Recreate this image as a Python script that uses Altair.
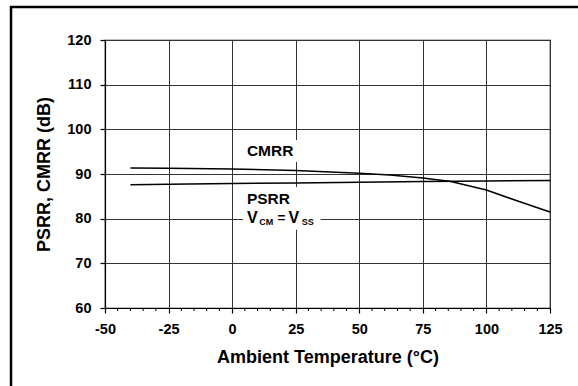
import altair as alt
import pandas as pd

# ---- data ----
temp_cmrr = [-40, -25, 0, 25, 50, 62, 75, 86, 100, 112, 125]
cmrr_db = [91.35, 91.3, 91.1, 90.8, 90.15, 89.8, 89.1, 88.3, 86.4, 84.0, 81.5]

temp_psrr = [-40, -25, 0, 25, 50, 75, 100, 125]
psrr_db = [87.6, 87.7, 87.85, 88.0, 88.15, 88.3, 88.45, 88.55]

x_ticks = [-50, -25, 0, 25, 50, 75, 100, 125]
y_ticks = [60, 70, 80, 90, 100, 110, 120]
minor_ticks = [-45, -40, -35, -30, -20, -15, -10, -5, 5, 10, 15, 20, 30, 35, 40, 45,
               55, 60, 65, 70, 80, 85, 90, 95, 105, 110, 115, 120]

# annotation text pieces
ann_text = ["CMRR", "PSRR", "V", "CM", "=", "V", "SS"]
ann_x = [5.8, 5.8, 5.8, 10.7, 17.8, 22.2, 27.4]
ann_y = [95.15, 84.4, 80.15, 79.25, 80.15, 80.15, 79.25]
ann_size = [15.5, 15.5, 16, 9, 13.5, 16, 9]

# white label backgrounds (data units)
box_x1 = [4.3, 4.3]
box_x2 = [34.8, 34.8]
box_y1 = [97.6, 87.1]
box_y2 = [92.7, 77.5]

FONT = "Liberation Sans"
W, H = 445, 268

lines_df = pd.concat([
    pd.DataFrame({"t": temp_cmrr, "v": cmrr_db, "s": "CMRR"}),
    pd.DataFrame({"t": temp_psrr, "v": psrr_db, "s": "PSRR"}),
])
ann_df = pd.DataFrame({"text": ann_text, "t": ann_x, "v": ann_y, "size": ann_size})
box_df = pd.DataFrame({"x1": box_x1, "x2": box_x2, "y1": box_y1, "y2": box_y2})
minor_df = pd.DataFrame({"t": minor_ticks})

xscale = alt.Scale(domain=[-50, 125], nice=False, zero=False)
yscale = alt.Scale(domain=[60, 120], nice=False, zero=False)

xaxis = alt.Axis(values=x_ticks, title="Ambient Temperature (°C)", grid=True,
                 tickSize=5, labelPadding=9, titleX=W / 2, titleY=49,
                 titleBaseline="middle", labelFlush=False,
                 labelExpr="'' + datum.value")
yaxis = alt.Axis(values=y_ticks, title="PSRR, CMRR (dB)", grid=True,
                 tickSize=5, labelPadding=9, titleX=-61, titleY=H / 2,
                 titleBaseline="middle", titleAngle=270, labelFlush=False)

lines = alt.Chart(lines_df).mark_line(color="black", strokeWidth=1.5).encode(
    x=alt.X("t:Q", scale=xscale, axis=xaxis),
    y=alt.Y("v:Q", scale=yscale, axis=yaxis),
    detail="s:N",
)

boxes = alt.Chart(box_df).mark_rect(fill="white", stroke=None).encode(
    x=alt.X("x1:Q", scale=xscale), x2="x2:Q",
    y=alt.Y("y1:Q", scale=yscale), y2="y2:Q",
)

texts = alt.Chart(ann_df).mark_text(
    align="left", baseline="middle", font=FONT, fontWeight="bold", color="black"
).encode(
    x=alt.X("t:Q", scale=xscale),
    y=alt.Y("v:Q", scale=yscale),
    text="text:N",
    size=alt.Size("size:Q", scale=None),
)

minor = alt.Chart(minor_df).mark_rule(color="black", strokeWidth=1).encode(
    x=alt.X("t:Q", scale=xscale),
    y=alt.value(H),
    y2=alt.value(H + 3),
)

frame = alt.Chart(pd.DataFrame({"a": [0]})).mark_rect(
    fill=None, stroke="black", strokeWidth=2.5
).encode(
    x=alt.value(-94), x2=alt.value(520),
    y=alt.value(-33), y2=alt.value(400),
)

chart = alt.layer(boxes, lines, texts, minor, frame).properties(
    width=W, height=H,
    autosize=alt.AutoSizeParams(type="none"),
    padding={"left": 105, "top": 40, "right": 28, "bottom": 78},
    background="white",
).configure_view(
    stroke="black", strokeWidth=1.2
).configure_axis(
    labelFont=FONT, labelFontWeight="bold", labelFontSize=14.5, labelColor="black",
    titleFont=FONT, titleFontWeight="bold", titleFontSize=18, titleColor="black",
    domainColor="black", domainWidth=1.2, tickColor="black", tickWidth=1.2,
    gridColor="#333333", gridWidth=1, gridOpacity=1,
)

chart.save("out.html", embed_options={"renderer": "svg", "actions": False})
